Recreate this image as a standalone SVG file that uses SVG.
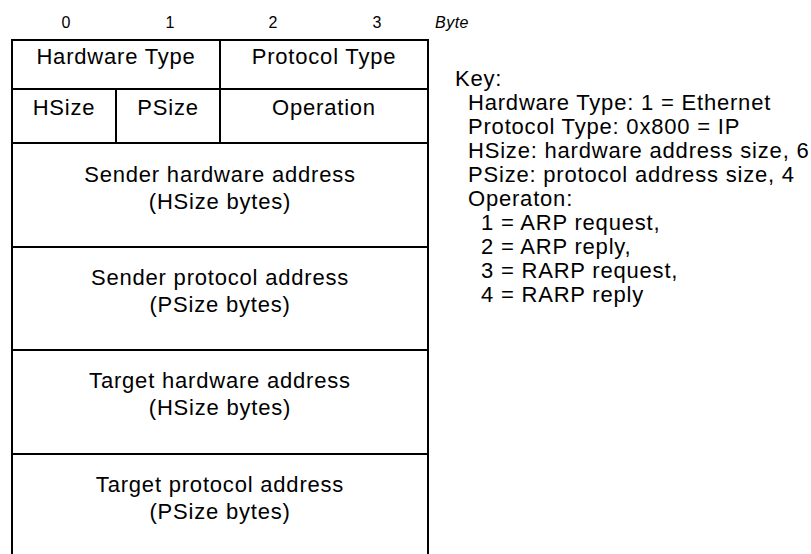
<svg xmlns="http://www.w3.org/2000/svg" width="811" height="554" viewBox="0 0 811 554">
<style>
  .ln { stroke: #000; stroke-width: 2; fill: none; }
  .t { font-family: "Liberation Sans", Arial, sans-serif; font-size: 22px; letter-spacing: 0.8px; fill: #000; text-anchor: middle; }
  .k { font-family: "Liberation Sans", Arial, sans-serif; font-size: 22px; letter-spacing: 0.8px; fill: #000; }
  .b { font-family: "Liberation Sans", Arial, sans-serif; font-size: 16px; fill: #000; text-anchor: middle; }
  .bi { font-family: "Liberation Sans", Arial, sans-serif; font-size: 16px; letter-spacing: 0.5px; font-style: italic; fill: #000; }
</style>
<rect width="811" height="554" fill="#fff"/>
<g id="byte-scale">
  <text class="b" x="66" y="28">0</text>
  <text class="b" x="170" y="28">1</text>
  <text class="b" x="273" y="28">2</text>
  <text class="b" x="377" y="28">3</text>
  <text class="bi" x="435" y="28">Byte</text>
</g>
<g id="frame">
  <path class="ln" d="M12,556 V40 H428 V556"/>
  <path class="ln" d="M12,89 H428 M12,143 H428 M12,247 H428 M12,350 H428 M12,454 H428"/>
  <path class="ln" d="M220,40 V143 M116,89 V143"/>
</g>
<g id="hardware-type"><text class="t" x="116" y="64">Hardware Type</text></g>
<g id="protocol-type"><text class="t" x="324" y="64">Protocol Type</text></g>
<g id="hsize"><text class="t" x="64" y="115">HSize</text></g>
<g id="psize"><text class="t" x="168" y="115">PSize</text></g>
<g id="operation"><text class="t" x="324" y="115">Operation</text></g>
<g id="sender-hw"><text class="t" x="220" y="182">Sender hardware address</text><text class="t" x="220" y="209">(HSize bytes)</text></g>
<g id="sender-proto"><text class="t" x="220" y="285">Sender protocol address</text><text class="t" x="220" y="312">(PSize bytes)</text></g>
<g id="target-hw"><text class="t" x="220" y="388">Target hardware address</text><text class="t" x="220" y="415">(HSize bytes)</text></g>
<g id="target-proto"><text class="t" x="220" y="492">Target protocol address</text><text class="t" x="220" y="519">(PSize bytes)</text></g>
<g id="key">
  <text class="k" x="455" y="86">Key:</text>
  <text class="k" x="468" y="110">Hardware Type: 1 = Ethernet</text>
  <text class="k" x="468" y="134">Protocol Type: 0x800 = IP</text>
  <text class="k" x="468" y="158">HSize: hardware address size, 6</text>
  <text class="k" x="468" y="182">PSize: protocol address size, 4</text>
  <text class="k" x="468" y="206">Operaton:</text>
  <text class="k" x="481" y="230">1 = ARP request,</text>
  <text class="k" x="481" y="254">2 = ARP reply,</text>
  <text class="k" x="481" y="278">3 = RARP request,</text>
  <text class="k" x="481" y="302">4 = RARP reply</text>
</g>
</svg>
